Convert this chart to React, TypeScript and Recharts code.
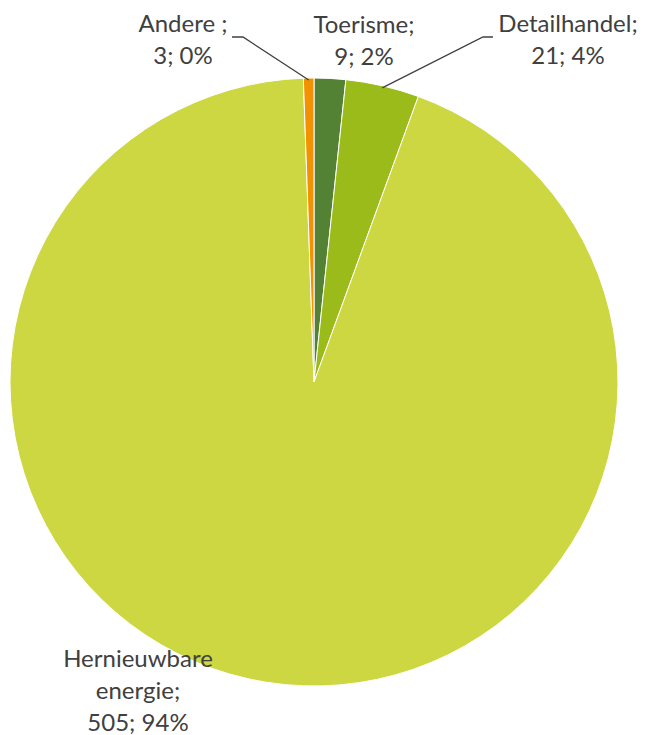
import { PieChart, Pie, Cell } from 'recharts'

const categories = ['Toerisme', 'Detailhandel', 'Hernieuwbare energie', 'Andere']
const values = [9, 21, 505, 3]
const labelTexts = [
  ['Toerisme;', '9; 2%'],
  ['Detailhandel;', '21; 4%'],
  ['Hernieuwbare', 'energie;', '505; 94%'],
  ['Andere ;', '3; 0%'],
]
const colors = ['#548235', '#9BBB1A', '#CDD741', '#F39200']

// label anchor (centre x, first baseline y) and leader-line elbows, per slice
const labelPos = [
  { x: 364, y: 33, leader: null },
  { x: 568, y: 32, leader: [[483, 37], [493, 37]] },
  { x: 138, y: 667, leader: null },
  { x: 183, y: 32, leader: [[243, 37], [232, 37]] },
]

const RAD = Math.PI / 180
const LINE_H = 32

const renderLabel = (props: any) => {
  const { cx, cy, midAngle, outerRadius, index } = props
  const pos = labelPos[index]
  const lines = labelTexts[index]
  const ex = cx + (outerRadius - 2) * Math.cos(-midAngle * RAD)
  const ey = cy + (outerRadius - 2) * Math.sin(-midAngle * RAD)
  return (
    <g key={`lbl-${index}`}>
      {pos.leader && (
        <polyline
          points={[[ex, ey], ...pos.leader].map((p) => p.join(',')).join(' ')}
          fill="none"
          stroke="#404040"
          strokeWidth={1.3}
        />
      )}
      <text
        x={pos.x}
        y={pos.y}
        textAnchor="middle"
        fill="#404040"
        style={{ fontSize: '24px', fontFamily: 'Lato, sans-serif' }}
      >
        {lines.map((t, i) => (
          <tspan key={i} x={pos.x} y={pos.y + i * LINE_H}>
            {t}
          </tspan>
        ))}
      </text>
    </g>
  )
}

export default function App() {
  const data = categories.map((name, i) => ({ name, value: values[i] }))
  return (
    <div style={{ position: 'absolute', left: 0, top: 0, width: 646, height: 735, background: '#fff' }}>
      <PieChart width={646} height={735} margin={{ top: 0, right: 0, bottom: 0, left: 0 }}>
        <Pie
          data={data}
          dataKey="value"
          nameKey="name"
          cx={314}
          cy={382}
          outerRadius={304}
          startAngle={90}
          endAngle={-270}
          stroke="#ffffff"
          strokeWidth={1}
          label={renderLabel}
          labelLine={false}
          isAnimationActive={false}
        >
          {data.map((_, i) => (
            <Cell key={i} fill={colors[i]} />
          ))}
        </Pie>
      </PieChart>
    </div>
  )
}
